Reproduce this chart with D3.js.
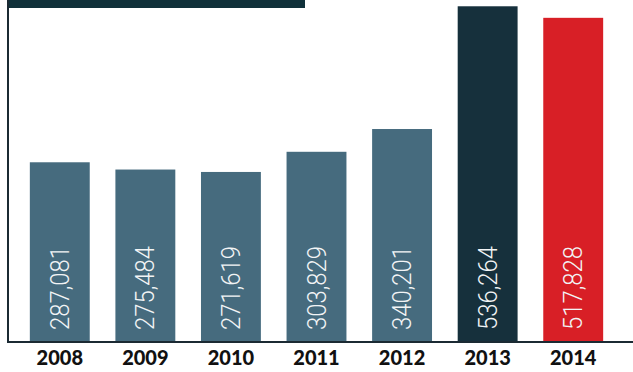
<!DOCTYPE html>
<html><head><meta charset="utf-8">
<script src="https://cdn.jsdelivr.net/npm/d3@7"></script>
<style>html,body{margin:0;padding:0;background:#fff;}svg{display:block;}</style>
</head><body>
<script>
const years = ["2008","2009","2010","2011","2012","2013","2014"];
const values = [287081, 275484, 271619, 303829, 340201, 536264, 517828];
const valueLabels = ["287,081","275,484","271,619","303,829","340,201","536,264","517,828"];
const barColors = ["#466b7e","#466b7e","#466b7e","#466b7e","#466b7e","#16303c","#d81f26"];

const W = 633, H = 372;
const svg = d3.select("body").append("svg").attr("width", W).attr("height", H);
svg.append("rect").attr("width", W).attr("height", H).attr("fill", "#fff");

const x = d3.scaleBand().domain(years).range([17, 616]).paddingInner(0.3).paddingOuter(0.15);
const y = d3.scaleLinear().domain([0, 546300]).range([342, 0]);

// title box (cut off at top)
svg.append("rect").attr("x", 8).attr("y", 0).attr("width", 297).attr("height", 8).attr("fill", "#10313a");

// bars
svg.selectAll("rect.bar").data(values).join("rect").attr("class", "bar")
  .attr("x", (d, i) => x(years[i]))
  .attr("y", d => y(d))
  .attr("width", x.bandwidth())
  .attr("height", d => y(0) - y(d))
  .attr("fill", (d, i) => barColors[i]);

// value labels
svg.selectAll("text.val").data(values).join("text").attr("class", "val")
  .attr("transform", (d, i) => `translate(${x(years[i]) + x.bandwidth() / 2 + 9},330) rotate(-90)`)
  .attr("fill", "#f2f4f5")
  .attr("font-family", "Roboto, 'Liberation Sans', sans-serif")
  .attr("font-weight", 300)
  .attr("font-size", 26)
  .attr("textLength", 84)
  .attr("lengthAdjust", "spacingAndGlyphs")
  .text((d, i) => valueLabels[i]);

// axes lines
svg.append("line").attr("x1", 8).attr("x2", 8).attr("y1", 0).attr("y2", 343)
  .attr("stroke", "#1b2a33").attr("stroke-width", 2);
const xAxis = d3.axisBottom(x).tickSize(0).tickPadding(9);
const gx = svg.append("g").attr("transform", "translate(0,342)").call(xAxis);
gx.select(".domain").attr("d", "M7,0H633").attr("stroke", "#1b2a33").attr("stroke-width", 2);
gx.selectAll("text").attr("fill", "#111").attr("font-family", "Lato, 'Open Sans', sans-serif")
  .attr("font-weight", 900).attr("font-size", 20);
</script>
</body></html>
